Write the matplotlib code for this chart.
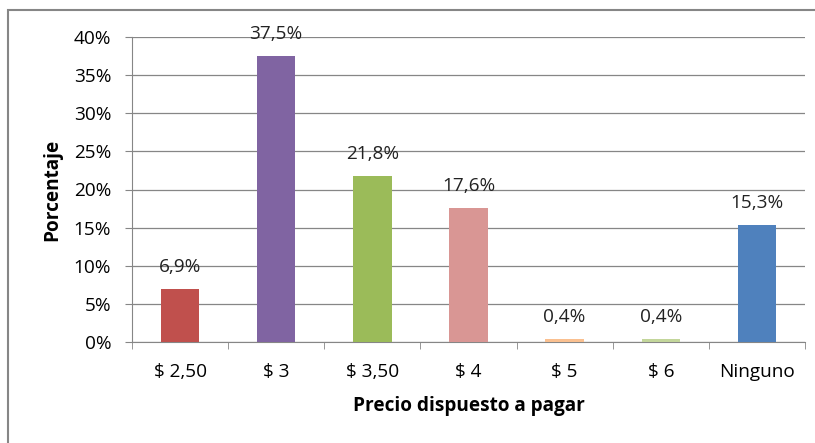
import matplotlib.pyplot as plt
from matplotlib.patches import Rectangle
import numpy as np

categorias = ["$ 2,50", "$ 3", "$ 3,50", "$ 4", "$ 5", "$ 6", "Ninguno"]
porcentajes = [6.9, 37.5, 21.8, 17.6, 0.4, 0.4, 15.3]
etiquetas = ["6,9%", "37,5%", "21,8%", "17,6%", "0,4%", "0,4%", "15,3%"]
colores = ["#C0504D", "#8064A2", "#9BBB59", "#D99694", "#FAC090", "#C3D69B", "#4F81BD"]
yticks = [0, 5, 10, 15, 20, 25, 30, 35, 40]

plt.rcParams['font.family'] = ['Open Sans', 'DejaVu Sans']
fs = 13.7

fig = plt.figure(figsize=(8.15, 4.43), dpi=100)
ax = fig.add_axes([132 / 815, 1 - 342 / 443, (805 - 132) / 815, (342 - 37) / 443])

# marco del grafico
fig.patches.append(Rectangle((8 / 815, -0.1), 1.2, 1 - 10 / 443 + 0.1,
                             transform=fig.transFigure, fill=False,
                             edgecolor="#868686", linewidth=1.5))

x = np.arange(len(categorias))
ax.bar(x, porcentajes, width=0.4, color=colores, zorder=3)
for xi, v, t in zip(x, porcentajes, etiquetas):
    ax.text(xi, v + 1.7, t, ha="center", va="bottom", fontsize=fs, color="#222222")

ax.set_xlim(-0.5, len(categorias) - 0.5)
ax.set_ylim(0, 40)
ax.set_yticks(yticks)
ax.set_yticklabels([f"{t}%" for t in yticks], fontsize=fs)
ax.set_xticks(x)
ax.set_xticklabels(categorias, fontsize=fs)
ax.set_xticks(np.arange(len(categorias) + 1) - 0.5, minor=True)
ax.tick_params(axis="x", which="major", length=0, pad=15)
ax.tick_params(axis="x", which="minor", length=5, color="#868686")
ax.tick_params(axis="y", length=5, color="#868686", pad=10)
ax.grid(axis="y", color="#868686", linewidth=0.9, zorder=0)

for s in ["top", "right"]:
    ax.spines[s].set_visible(False)
for s in ["left", "bottom"]:
    ax.spines[s].set_color("#868686")

ax.set_xlabel("Precio dispuesto a pagar", fontsize=fs, fontweight="bold", labelpad=11)
ax.set_ylabel("Porcentaje", fontsize=fs, fontweight="bold", labelpad=8)

fig.savefig("out.png", dpi=100)
